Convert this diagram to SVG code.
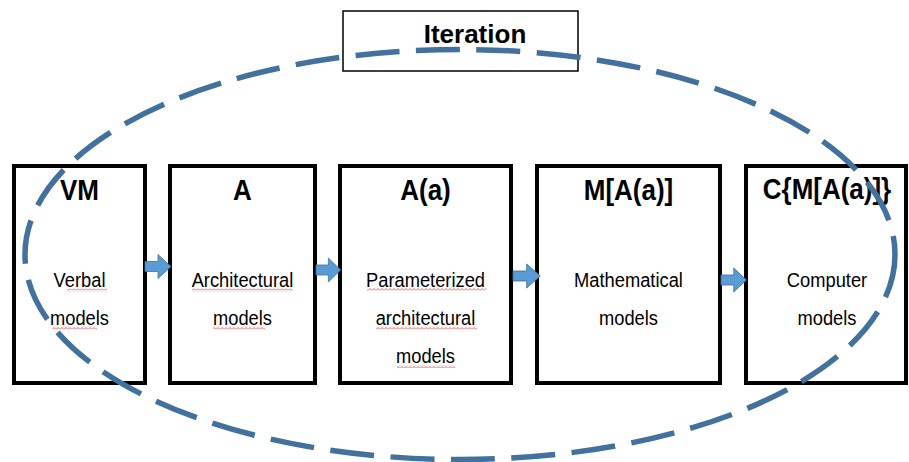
<svg xmlns="http://www.w3.org/2000/svg" width="909" height="462" viewBox="0 0 909 462">
  <style>
    .box { fill: #ffffff; stroke: #000000; stroke-width: 4; }
    .title { font-family: "Liberation Sans", Arial, sans-serif; font-weight: bold; font-size: 26px; fill: #000000; text-anchor: middle; }
    .body { font-family: "Liberation Sans", Arial, sans-serif; font-size: 18.3px; fill: #000000; text-anchor: middle; }
    .arrow { fill: #5B9BD5; stroke: #41719C; stroke-width: 0.8; }
    .squiggle { fill: url(#wave); }
    .loop { fill: none; stroke: #41719C; stroke-width: 5.5; stroke-dasharray: 44 16.5; }
  </style>
  <defs>
    <!-- block arrow, tail at origin, tip at (26,0) -->
    <path id="blockArrow" d="M0,-5 L13,-5 L13,-12 L26,0 L13,12 L13,5 L0,5 Z"/>
    <!-- red wavy underline -->
    <pattern id="wave" width="4" height="3" patternUnits="userSpaceOnUse">
      <polyline points="0,2.5 2,0.5 4,2.5" fill="none" stroke="#E84A4A" stroke-width="0.9"/>
    </pattern>
  </defs>

  <rect width="909" height="462" fill="#ffffff"/>

  <g id="iteration">
    <rect x="343" y="11" width="235" height="60" fill="#ffffff" stroke="#000000" stroke-width="1.5"/>
    <text x="475" y="43" class="title">Iteration</text>
  </g>

  <g id="vm">
    <rect class="box" x="14" y="166" width="131" height="217"/>
    <text class="title" transform="translate(79.5,200) scale(1,1.15)">VM</text>
    <text class="body" transform="translate(79.5,286.7) scale(1,1.15)">Verbal</text>
    <text class="body" transform="translate(79.5,325) scale(1,1.15)">models</text>
    <rect class="squiggle" x="67" y="288.5" width="40" height="3"/>
    <rect class="squiggle" x="52" y="326.5" width="45" height="3"/>
  </g>

  <g id="a">
    <rect class="box" x="170" y="166" width="145" height="217"/>
    <text class="title" transform="translate(242.5,200) scale(1,1.15)">A</text>
    <text class="body" transform="translate(242.5,286.7) scale(1,1.15)">Architectural</text>
    <text class="body" transform="translate(242.5,325) scale(1,1.15)">models</text>
    <rect class="squiggle" x="192" y="288.5" width="101" height="3"/>
    <rect class="squiggle" x="213" y="326.5" width="52" height="3"/>
  </g>

  <g id="aa">
    <rect class="box" x="340" y="166" width="171" height="217"/>
    <text class="title" transform="translate(425.5,200) scale(1,1.15)">A(a)</text>
    <text class="body" transform="translate(425.5,286.7) scale(1,1.15)">Parameterized</text>
    <text class="body" transform="translate(425.5,325) scale(1,1.15)">architectural</text>
    <text class="body" transform="translate(425.5,363.3) scale(1,1.15)">models</text>
    <rect class="squiggle" x="367" y="288" width="119" height="3"/>
    <rect class="squiggle" x="376" y="326.5" width="101" height="3"/>
    <rect class="squiggle" x="397" y="365" width="58" height="3"/>
  </g>

  <g id="maa">
    <rect class="box" x="537" y="166" width="183" height="217"/>
    <text class="title" transform="translate(628.5,200) scale(1,1.15)">M[A(a)]</text>
    <text class="body" transform="translate(628.5,286.7) scale(1,1.15)">Mathematical</text>
    <text class="body" transform="translate(628.5,325) scale(1,1.15)">models</text>
  </g>

  <g id="cmaa">
    <rect class="box" x="746" y="166" width="160" height="217"/>
    <text class="title" transform="translate(827,199) scale(1,1.15)">C{M[A(a)]}</text>
    <text class="body" transform="translate(827,286.7) scale(1,1.15)">Computer</text>
    <text class="body" transform="translate(827,325) scale(1,1.15)">models</text>
  </g>

  <g id="connectors">
    <use href="#blockArrow" class="arrow" transform="translate(145,266.5)"/>
    <use href="#blockArrow" class="arrow" transform="translate(316,270) scale(0.95,1)"/>
    <use href="#blockArrow" class="arrow" transform="translate(513,276) scale(1.05,1)"/>
    <use href="#blockArrow" class="arrow" transform="translate(721,280) scale(0.98,1)"/>
    <ellipse class="loop" cx="460" cy="254.5" rx="435" ry="205"/>
  </g>
</svg>
